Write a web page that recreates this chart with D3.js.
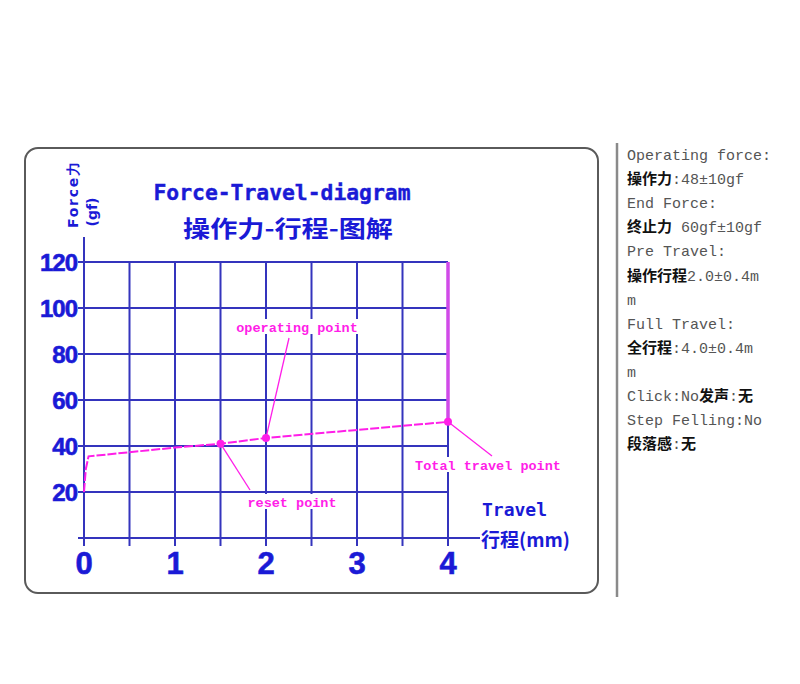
<!DOCTYPE html>
<html><head><meta charset="utf-8">
<script src="https://cdn.jsdelivr.net/npm/d3@7"></script>
<style>body{margin:0;background:#fff;}svg{display:block;}</style>
</head><body>
<svg id="c" width="800" height="684"></svg>
<script>
// ---- data ----
const xTickValues = [0, 1, 2, 3, 4];
const xGridValues = [0.5, 1, 1.5, 2, 2.5, 3, 3.5, 4];
const yTickValues = [20, 40, 60, 80, 100, 120];
const curveTravel = [0, 0.02, 0.05, 1, 1.5, 2, 4, 4];
const curveForce  = [20, 30, 35.5, 39.3, 41, 43.5, 50.5, 120];
const markerNames  = ["reset point", "operating point", "Total travel point"];
const markerTravel = [1.5, 2, 4];
const markerForce  = [41, 43.5, 50.5];
const titleLines = ["Force-Travel-diagram", "操作力-行程-图解"];
const specLines = [
  "Operating force:", "操作力:48±10gf", "End Force:", "终止力 60gf±10gf",
  "Pre Travel:", "操作行程2.0±0.4m", "m", "Full Travel:", "全行程:4.0±0.4m",
  "m", "Click:No发声:无", "Step Felling:No", "段落感:无"
];

const svg = d3.select("#c");
const BLUE = "#3434bd", TXT = "#1a1ad6", MAG = "#ff1ee8";

// frame
svg.append("rect").attr("x", 25).attr("y", 148).attr("width", 573).attr("height", 445)
  .attr("rx", 13).attr("fill", "#fff").attr("stroke", "#5a5a5a").attr("stroke-width", 2);
svg.append("line").attr("x1", 617).attr("x2", 617).attr("y1", 143).attr("y2", 597)
  .attr("stroke", "#8a8a8a").attr("stroke-width", 2.5);

const x = d3.scaleLinear().domain([0, 4]).range([84, 448]);
const y = d3.scaleLinear().domain([0, 120]).range([538, 262]);

const g = svg.append("g");
// horizontal grid
g.selectAll(".hg").data(yTickValues).join("line")
  .attr("x1", 78).attr("x2", x(4)).attr("y1", d => y(d)).attr("y2", d => y(d))
  .attr("stroke", BLUE).attr("stroke-width", 2);
// x axis line
g.append("line").attr("x1", 78).attr("x2", 480).attr("y1", y(0)).attr("y2", y(0))
  .attr("stroke", BLUE).attr("stroke-width", 2);
// vertical grid
g.selectAll(".vg").data(xGridValues).join("line")
  .attr("x1", d => x(d)).attr("x2", d => x(d)).attr("y1", y(120)).attr("y2", 546)
  .attr("stroke", BLUE).attr("stroke-width", 2);
// y axis
g.append("line").attr("x1", x(0)).attr("x2", x(0)).attr("y1", 237).attr("y2", 546)
  .attr("stroke", BLUE).attr("stroke-width", 2);

// tick labels
g.selectAll(".yt").data(yTickValues).join("text")
  .attr("x", 77).attr("y", d => y(d)).attr("dy", "0.36em").attr("text-anchor", "end")
  .attr("font-family", "Liberation Sans, Arial, sans-serif").attr("font-weight", "bold")
  .attr("font-size", 24).attr("fill", TXT).attr("stroke", TXT).attr("stroke-width", 0.6)
  .attr("letter-spacing", -1).text(d => d);
g.selectAll(".xt").data(xTickValues).join("text")
  .attr("x", d => x(d)).attr("y", 574).attr("text-anchor", "middle")
  .attr("font-family", "Liberation Sans, Arial, sans-serif").attr("font-weight", "bold")
  .attr("font-size", 31).attr("fill", TXT).attr("stroke", TXT).attr("stroke-width", 0.6).text(d => d);

// titles
svg.append("text").attr("x", 282).attr("y", 200).attr("text-anchor", "middle")
  .attr("font-family", "DejaVu Sans Mono, monospace").attr("font-weight", "bold")
  .attr("font-size", 21).attr("fill", TXT).attr("stroke", TXT).attr("stroke-width", 0.4)
  .attr("textLength", 257).attr("lengthAdjust", "spacingAndGlyphs").text(titleLines[0]);
svg.append("text").attr("x", 288).attr("y", 237).attr("text-anchor", "middle")
  .attr("font-family", "Noto Sans CJK SC, sans-serif").attr("font-weight", "bold")
  .attr("font-size", 23).attr("fill", TXT)
  .attr("textLength", 210).attr("lengthAdjust", "spacingAndGlyphs").text(titleLines[1]);

// axis titles
svg.append("text").attr("transform", "translate(78,195) rotate(-90)").attr("text-anchor", "middle")
  .attr("font-family", "DejaVu Sans, sans-serif").attr("font-weight", "bold")
  .attr("font-size", 14).attr("fill", TXT).attr("textLength", 66).text("Force力");
svg.append("text").attr("transform", "translate(97,212) rotate(-90)").attr("text-anchor", "middle")
  .attr("font-family", "DejaVu Sans, sans-serif").attr("font-weight", "bold")
  .attr("font-size", 14).attr("fill", TXT).text("(gf)");
svg.append("text").attr("x", 482).attr("y", 516)
  .attr("font-family", "DejaVu Sans Mono, monospace").attr("font-weight", "bold")
  .attr("font-size", 18).attr("fill", TXT).text("Travel");
svg.append("text").attr("x", 481).attr("y", 547)
  .attr("font-family", "Noto Sans CJK SC, sans-serif").attr("font-weight", "bold")
  .attr("font-size", 19).attr("fill", TXT).text("行程(mm)");

// curve
const pts = curveTravel.map((t, i) => [t, curveForce[i]]);
const line = d3.line().x(d => x(d[0])).y(d => y(d[1]));
g.append("path").attr("d", line(pts.slice(0, 7))).attr("fill", "none")
  .attr("stroke", MAG).attr("stroke-width", 2).attr("stroke-dasharray", "9,2");
g.append("path").attr("d", line(pts.slice(6))).attr("fill", "none")
  .attr("stroke", "#d04ae8").attr("stroke-width", 3.5);

// annotations
const labelPos = [[292, 503], [297, 328], [488, 466]];
const leaderEnd = [[250, 490], [289, 338], [492, 456]];
const ann = g.selectAll(".ann").data(markerNames).join("g");
ann.append("line")
  .attr("x1", (d, i) => x(markerTravel[i])).attr("y1", (d, i) => y(markerForce[i]))
  .attr("x2", (d, i) => leaderEnd[i][0]).attr("y2", (d, i) => leaderEnd[i][1])
  .attr("stroke", MAG).attr("stroke-width", 1.3);
ann.append("rect")
  .attr("x", (d, i) => labelPos[i][0] - d.length * 4.1 - 2).attr("y", (d, i) => labelPos[i][1] - 9)
  .attr("width", d => d.length * 8.2 + 4).attr("height", 15).attr("fill", "#fff");
ann.append("text")
  .attr("x", (d, i) => labelPos[i][0]).attr("y", (d, i) => labelPos[i][1]).attr("dy", "0.32em")
  .attr("text-anchor", "middle").attr("font-family", "Liberation Mono, monospace")
  .attr("font-weight", "bold").attr("font-size", 13.5).attr("fill", MAG).text(d => d);
ann.append("circle")
  .attr("cx", (d, i) => x(markerTravel[i])).attr("cy", (d, i) => y(markerForce[i]))
  .attr("r", 4).attr("fill", MAG);

// spec text
const spec = svg.append("g");
specLines.forEach((s, i) => {
  const t = spec.append("text").attr("x", 627).attr("y", 160 + i * 24.1)
    .attr("font-size", 15).attr("fill", "#555");
  const runs = s.match(/[\u3000-\u9fff\uff00-\uffef]+|[^\u3000-\u9fff\uff00-\uffef]+/g);
  runs.forEach(r => {
    const cjk = /[\u3000-\u9fff]/.test(r);
    t.append("tspan").text(r)
      .attr("font-family", cjk ? "Noto Sans CJK SC, sans-serif" : "Liberation Mono, monospace")
      .attr("font-weight", cjk ? "bold" : "normal")
      .attr("fill", cjk ? "#111" : "#555");
  });
});
</script>
</body></html>
